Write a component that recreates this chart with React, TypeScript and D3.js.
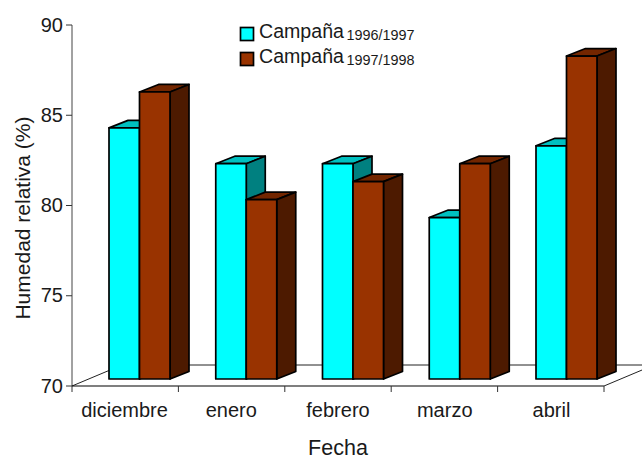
import React from "react";
import * as d3 from "d3";

// Mean relative humidity by month for two seasons
const months = ["diciembre", "enero", "febrero", "marzo", "abril"];
const season9697 = [84, 82, 82, 79, 83];
const season9798 = [86, 80, 81, 82, 88];
const yTicks = [70, 75, 80, 85, 90];

const width = 642;
const height = 457;
const font = "'Liberation Sans', Arial, sans-serif";

// Oblique projection offsets
const barDepth = { x: 19, y: -7.5 };
const floorDepth = { x: 50, y: -21 };

const cyan = { front: "#00ffff", top: "#00c0c0", side: "#008080" };
const brown = { front: "#993300", top: "#732600", side: "#4d1a00" };

const xAxis = d3.scaleLinear().domain([0, months.length]).range([72, 604]);
const xBars = d3.scaleLinear().domain([0, months.length]).range([109, 642.75]);
const yAxis = d3.scaleLinear().domain([70, 90]).range([386, 25]);
const yFront = d3.scaleLinear().domain([70, 90]).range([379, 20.2]);

const barWidth = 30.5;

function poly(points: [number, number][]) {
  return d3.line()(points) + "Z";
}

function Bar({ x, value, c }: { x: number; value: number; c: typeof cyan }) {
  const y0 = yFront(70);
  const y1 = yFront(value);
  const x1 = x + barWidth;
  const { x: dx, y: dy } = barDepth;
  const stroke = { stroke: "#000", strokeWidth: 1.7, strokeLinejoin: "round" as const };
  return (
    <g>
      <path d={poly([[x, y1], [x + dx, y1 + dy], [x1 + dx, y1 + dy], [x1, y1]])} fill={c.top} {...stroke} />
      <path d={poly([[x1, y1], [x1 + dx, y1 + dy], [x1 + dx, y0 + dy], [x1, y0]])} fill={c.side} {...stroke} />
      <rect x={x} y={y1} width={barWidth} height={y0 - y1} fill={c.front} {...stroke} />
    </g>
  );
}

export default function App() {
  const floorBack = yAxis(70) + floorDepth.y;
  const legend = [
    { c: cyan, label: "1996/1997", y: 34 },
    { c: brown, label: "1997/1998", y: 59 },
  ];
  return (
    <svg
      width={width}
      height={height}
      viewBox={`0 0 ${width} ${height}`}
      style={{ position: "absolute", left: 0, top: 0, display: "block", background: "#fff" }}
      fontFamily={font}
      fill="#1a1a1a"
    >
      {/* Floor outline */}
      <g stroke="#222" strokeWidth={1} fill="none">
        <path d={`M${xAxis(0)},${yAxis(70)}L${xAxis(0) + floorDepth.x},${floorBack}H${xAxis(5) + floorDepth.x}L${xAxis(5)},${yAxis(70)}`} />
      </g>

      {/* Axes */}
      <line x1={72} x2={72} y1={yAxis(90)} y2={yAxis(70)} stroke="#444" strokeWidth={1} />
      <line x1={xAxis(0)} x2={xAxis(5)} y1={yAxis(70)} y2={yAxis(70)} stroke="#000" strokeWidth={1.2} />
      {yTicks.map((t) => (
        <g key={t}>
          <line x1={66} x2={72} y1={yAxis(t)} y2={yAxis(t)} stroke="#333" strokeWidth={1} />
          <text x={63} y={yAxis(t) + 6.5} fontSize={20} textAnchor="end">{t}</text>
        </g>
      ))}
      {d3.range(months.length + 1).map((i) => (
        <line key={i} x1={xAxis(i)} x2={xAxis(i)} y1={yAxis(70)} y2={392} stroke="#333" strokeWidth={1} />
      ))}
      {months.map((m, i) => (
        <text key={m} x={xBars(i) + 15.5} y={417} fontSize={20} textAnchor="middle">{m}</text>
      ))}

      {/* Paired 3D columns */}
      {months.map((m, i) => {
        const x = xBars(i);
        return (
          <g key={m}>
            <Bar x={x} value={season9697[i]} c={cyan} />
            <Bar x={x + barWidth} value={season9798[i]} c={brown} />
          </g>
        );
      })}

      {/* Axis titles */}
      <text x={338} y={455} fontSize={21.5} textAnchor="middle">Fecha</text>
      <text transform="translate(30,218) rotate(-90)" fontSize={21} textAnchor="middle">Humedad relativa (%)</text>

      {/* Legend */}
      {legend.map(({ c, label, y }) => (
        <g key={label}>
          <rect x={240.5} y={y - 6.5} width={13} height={13} fill={c.front} stroke="#000" strokeWidth={1.7} />
          <text x={259} y={y + 4} fontSize={19.6}>
            Campaña <tspan fontSize={14.4} dx={-3} dy={2}>{label}</tspan>
          </text>
        </g>
      ))}
    </svg>
  );
}
